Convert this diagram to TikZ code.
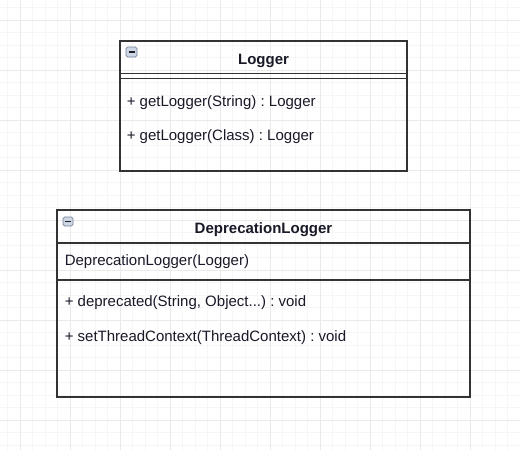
\documentclass[tikz,border=0pt]{standalone}
\usepackage{xcolor}
\usepackage{fontspec}
\setmainfont{Liberation Sans}
\usepackage{tikz}
\frenchspacing

\definecolor{boxline}{RGB}{51,51,51}
\definecolor{textcol}{RGB}{25,25,40}
\definecolor{gridmajor}{RGB}{234,234,234}
\definecolor{gridminor}{RGB}{246,246,246}

\begin{document}
\begin{tikzpicture}[x=0.75pt,y=0.75pt,yscale=-1,xscale=1,
	classbox/.style={draw=boxline,line width=1.1pt},
	classtitle/.style={anchor=base,inner sep=0.75pt,text=textcol,font=\fontsize{11.25}{13.5}\selectfont\bfseries},
	member/.style={anchor=base west,inner sep=0.75pt,text=textcol,font=\fontsize{11.25}{13.5}\selectfont},
	minusicon/.style={draw={rgb,255:red,115;green,130;blue,155},fill={rgb,255:red,205;green,214;blue,228},line width=0.6pt,rounded corners=1.2pt},
	minusline/.style={draw={rgb,255:red,30;green,30;blue,40},line width=1.1pt}]

	%Background
	\useasboundingbox (0,0) rectangle (520,450);
	\fill[white] (0,0) rectangle (520,450);
	%Grid minor
	\foreach \i in {0,...,41} {
		\draw[gridminor,line width=0.75pt] ({7.5+12.5*\i},0) -- ({7.5+12.5*\i},450);
	}
	\foreach \j in {0,...,35} {
		\draw[gridminor,line width=0.75pt] (0,{7.5+12.5*\j}) -- (520,{7.5+12.5*\j});
	}
	%Grid major
	\foreach \i in {0,...,10} {
		\draw[gridmajor,line width=0.75pt] ({20+50*\i},0) -- ({20+50*\i},450);
	}
	\foreach \j in {0,...,8} {
		\draw[gridmajor,line width=0.75pt] (0,{20+50*\j}) -- (520,{20+50*\j});
	}

	%Shape: Rectangle [Logger]
	\draw[classbox] (120,41) rectangle (407,171);
	%Straight Lines
	\draw[classbox] (120,73.5) -- (407,73.5);
	\draw[classbox] (120,78.5) -- (407,78.5);
	%Shape: Minus icon
	\draw[minusicon] (126,47) rectangle (137,57);
	\draw[minusline] (128.5,52) -- (134.5,52);

	% Text Node
	\draw (263.5,64.3) node [classtitle] (loggerName) {Logger};
	% Text Node
	\draw (125.5,106) node [member] (getLoggerString) {+ getLogger(String) : Logger};
	% Text Node
	\draw (125.5,140.7) node [member] (getLoggerClass) {+ getLogger(Class) : Logger};

	%Shape: Rectangle [DeprecationLogger]
	\draw[classbox] (57,210) rectangle (470,397);
	%Straight Lines
	\draw[classbox] (57,243) -- (470,243);
	\draw[classbox] (57,280) -- (470,280);
	%Shape: Minus icon
	\draw[minusicon] (63,217) rectangle (73,226);
	\draw[minusline] (65.2,221.5) -- (70.8,221.5);

	% Text Node
	\draw (263.5,233) node [classtitle] (deprecationName) {DeprecationLogger};
	% Text Node
	\draw (63.5,265) node [member] (deprecationCtor) {DeprecationLogger(Logger)};
	% Text Node
	\draw (63.5,306.7) node [member] (deprecatedMethod) {+ deprecated(String, Object...) : void};
	% Text Node
	\draw (63.5,341.7) node [member] (setThreadContext) {+ setThreadContext(ThreadContext) : void};
\end{tikzpicture}
\end{document}
